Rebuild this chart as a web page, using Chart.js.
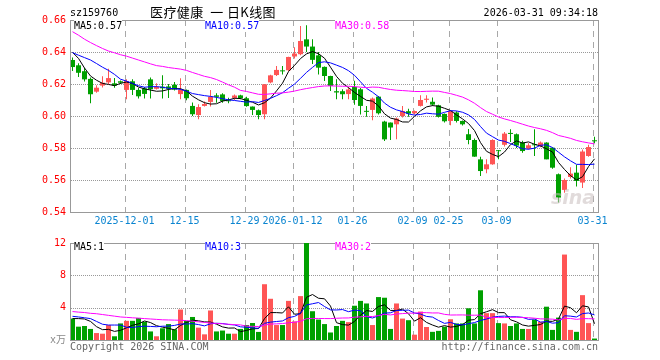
<!DOCTYPE html>
<html><head><meta charset="utf-8">
<script src="https://cdn.jsdelivr.net/npm/chart.js@4.4.1/dist/chart.umd.min.js"></script>
<style>
html,body{margin:0;padding:0;background:#fff;}
#root{position:relative;width:660px;height:360px;overflow:hidden;background:#fff;}
.t{position:absolute;font:10px "DejaVu Sans Mono",monospace;white-space:nowrap;line-height:12px;}
</style></head><body><div id="root">
<div style="position:absolute;left:0;top:0;width:660px;height:232px"><canvas id="c1"></canvas></div>
<div style="position:absolute;left:0;top:232px;width:660px;height:128px"><canvas id="c2"></canvas></div>
<div class="t" style="left:70px;top:7px;color:#000">sz159760</div>
<div class="t" style="left:150px;top:4px;font:13px 'Noto Sans CJK SC',sans-serif;letter-spacing:0.4px;line-height:16px;color:#000">医疗健康&nbsp; 一 日K线图</div>
<div class="t" style="right:62px;top:7px;color:#000">2026-03-31 09:34:18</div>
<div class="t" style="left:74px;top:20px;color:#000;background:#fff">MA5:0.57</div>
<div class="t" style="left:205px;top:20px;color:#0000ff;background:#fff">MA10:0.57</div>
<div class="t" style="left:335px;top:20px;color:#ff00ff;background:#fff">MA30:0.58</div>
<div class="t" style="left:74px;top:241px;color:#000;background:#fff">MA5:1</div>
<div class="t" style="left:205px;top:241px;color:#0000ff;background:#fff">MA10:3</div>
<div class="t" style="left:335px;top:241px;color:#ff00ff;background:#fff">MA30:2</div>
<div class="t" style="left:70px;top:341px;color:#666">Copyright 2026 SINA.COM</div>
<div class="t" style="right:62px;top:341px;color:#666">http://finance.sina.com.cn</div>
<div class="t" style="left:551px;top:186px;font:italic bold 19px 'DejaVu Sans',sans-serif;color:rgba(200,190,190,0.55)">sina</div>
</div>
<script>
// ---- data ----
const tickIdx = [9,19,29,37,47,57,63,71,87];
const tickLabels = ['2025-12-01','12-15','12-29','2026-01-12','01-26','02-09','02-25','03-09','03-31'];

const open = [
0.6350,0.6317,0.6280,0.6232,0.6152,0.6190,0.6210,0.6204,0.6217,0.6163,
0.6217,0.6163,0.6172,0.6229,0.6170,0.6183,0.6185,0.6195,0.6137,0.6163,
0.6063,0.6006,0.6063,0.6088,0.6129,0.6135,0.6096,0.6113,0.6129,0.6111,
0.6059,0.6036,0.6011,0.6210,0.6256,0.6282,0.6286,0.6372,0.6386,0.6479,
0.6434,0.6379,0.6307,0.6250,0.6155,0.6155,0.6137,0.6181,0.6167,0.6028,
0.6038,0.6121,0.5965,0.5959,0.5948,0.6000,0.6030,0.6017,0.6063,0.6101,
0.6089,0.6067,0.6013,0.5969,0.6022,0.5969,0.5886,0.5850,0.5729,0.5667,
0.5698,0.5785,0.5820,0.5892,0.5886,0.5834,0.5796,0.5821,0.5812,0.5834,
0.5802,0.5636,0.5538,0.5619,0.5646,0.5584,0.5750,0.5846];
const close = [
0.6306,0.6270,0.6229,0.6136,0.6177,0.6208,0.6237,0.6190,0.6208,0.6219,
0.6163,0.6123,0.6138,0.6167,0.6182,0.6173,0.6170,0.6165,0.6163,0.6111,
0.6011,0.6056,0.6075,0.6120,0.6120,0.6094,0.6092,0.6128,0.6111,0.6062,
0.6038,0.6006,0.6198,0.6254,0.6288,0.6279,0.6369,0.6390,0.6469,0.6434,
0.6351,0.6302,0.6250,0.6188,0.6147,0.6136,0.6166,0.6100,0.6063,0.6026,
0.6109,0.6017,0.5854,0.5928,0.5984,0.6031,0.6015,0.6031,0.6100,0.6108,
0.6071,0.5995,0.5967,0.6031,0.5969,0.5948,0.5850,0.5746,0.5656,0.5698,
0.5850,0.5780,0.5890,0.5888,0.5815,0.5781,0.5817,0.5817,0.5834,0.5729,
0.5677,0.5490,0.5600,0.5640,0.5594,0.5778,0.5806,0.5842];
const high = [
0.6365,0.6329,0.6300,0.6240,0.6192,0.6248,0.6296,0.6237,0.6222,0.6229,
0.6229,0.6175,0.6182,0.6240,0.6205,0.6254,0.6200,0.6213,0.6236,0.6165,
0.6084,0.6073,0.6090,0.6163,0.6142,0.6142,0.6114,0.6135,0.6133,0.6120,
0.6060,0.6040,0.6200,0.6258,0.6312,0.6313,0.6371,0.6430,0.6562,0.6567,
0.6480,0.6400,0.6310,0.6252,0.6229,0.6167,0.6180,0.6220,0.6175,0.6063,
0.6115,0.6125,0.5970,0.5960,0.5990,0.6063,0.6045,0.6035,0.6129,0.6129,
0.6115,0.6070,0.6015,0.6035,0.6030,0.5972,0.5918,0.5860,0.5746,0.5729,
0.5855,0.5787,0.5900,0.5917,0.5890,0.5845,0.5830,0.5917,0.5840,0.5836,
0.5805,0.5640,0.5610,0.5680,0.5696,0.5790,0.5820,0.5871];
const low = [
0.6281,0.6244,0.6215,0.6080,0.6145,0.6178,0.6199,0.6177,0.6200,0.6104,
0.6131,0.6110,0.6110,0.6110,0.6165,0.6110,0.6112,0.6160,0.6104,0.6098,
0.6000,0.5979,0.6060,0.6060,0.6083,0.6083,0.6080,0.6100,0.6105,0.6058,
0.6006,0.5979,0.5979,0.6205,0.6250,0.6260,0.6280,0.6360,0.6380,0.6400,
0.6325,0.6260,0.6219,0.6156,0.6104,0.6104,0.6104,0.6070,0.6010,0.5996,
0.5973,0.6010,0.5844,0.5850,0.5855,0.5990,0.5996,0.6010,0.6060,0.6084,
0.6063,0.5990,0.5960,0.5942,0.5960,0.5940,0.5823,0.5745,0.5625,0.5642,
0.5695,0.5730,0.5810,0.5838,0.5800,0.5770,0.5790,0.5750,0.5805,0.5729,
0.5670,0.5459,0.5520,0.5610,0.5560,0.5550,0.5745,0.5829];
const volume = [
2.65,1.65,1.73,1.37,0.86,0.78,1.85,0.46,2.05,2.37,
2.37,2.73,2.25,1.06,0.46,1.45,1.97,1.33,3.77,2.37,
2.85,1.53,0.70,3.65,1.06,1.17,0.78,0.78,1.37,1.85,
2.10,1.00,6.90,5.10,1.85,1.85,4.84,2.30,5.43,12.0,
3.56,2.53,1.97,0.93,1.73,2.37,2.21,4.24,4.84,4.52,
1.85,5.31,5.23,1.37,4.52,2.65,2.45,0.66,3.52,1.61,
1.01,1.13,1.65,2.57,2.05,2.05,3.92,2.05,6.15,3.32,
3.32,2.09,2.05,1.73,2.05,1.37,1.37,2.53,2.25,4.12,
1.25,2.77,10.57,1.25,1.01,5.55,2.09,0.18];
// moving-average values at the start of the window (history not shown)
const priceMa5Head = [0.6398,0.6360,0.6300,0.6250];
const priceMa10Head = [0.6396,0.6380,0.6365,0.6350,0.6328,0.6305,0.6285,0.6260,0.6230];
const priceMa30Head = [0.6527,0.6505,0.6480,0.6459,0.6440,0.6422,0.6406,0.6395,0.6383,0.6374,
  0.6362,0.6350,0.6338,0.6326,0.6315,0.6310,0.6303,0.6298,0.6293,0.6285,
  0.6272,0.6260,0.6248,0.6240,0.6228,0.6212,0.6195,0.6180,0.6160];
const volMa5Head = [2.65,2.65,2.60,2.30];
const volMa10Head = [2.93,2.85,2.75,2.65,2.30,1.95,1.85,1.85,1.85];
const volMa30Head = [3.52,3.45,3.40,3.30,3.25,3.15,3.05,2.95,2.85,2.80,
  2.75,2.70,2.65,2.60,2.55,2.50,2.48,2.46,2.44,2.40,
  2.32,2.25,2.18,2.10,2.05,2.00,1.95,1.90,1.87];

// ---- helpers ----
const RED = '#ff5555', GREEN = '#00a000';
const FONT = '"DejaVu Sans Mono", monospace';
const X_MIN = -0.25, X_MAX = 87.5833;
function ma(src, n, head){
  return src.map((_, i) => i < n-1 ? head[i] : src.slice(i-n+1, i+1).reduce((a,b)=>a+b,0)/n);
}
const colorOf = i => (close[i] > open[i] ? RED : GREEN);
const pts = arr => arr.map((v,i) => ({x:i, y:v}));

// dotted horizontal grid, dashed vertical grid and frame, placed with the chart's own scales
const gridPlugin = {
  id:'gridFrame',
  beforeDatasetsDraw(chart){
    const ctx = chart.ctx, a = chart.chartArea;
    const x = chart.scales.x, y = chart.scales.y;
    const L = Math.round(a.left), R = Math.round(a.right), T = Math.round(a.top), B = Math.round(a.bottom);
    ctx.save();
    ctx.fillStyle = '#999999';
    y.ticks.forEach(t => {
      if (Math.abs(t.value - y.min) < 1e-9 || Math.abs(t.value - y.max) < 1e-9) return;
      const py = Math.round(y.getPixelForValue(t.value));
      for (let px = L; px < R; px += 2) ctx.fillRect(px, py, 1, 1);
    });
    ctx.fillStyle = '#a8a8a8';
    tickIdx.forEach(i => {
      const px = Math.round(x.getPixelForValue(i - 0.33));
      for (let py = T; py < B; py += 11) ctx.fillRect(px, py, 1, Math.min(6, B - py));
    });
    ctx.fillStyle = '#999999';
    ctx.fillRect(L-1, T, R-L+2, 1);
    ctx.fillRect(L-1, B, R-L+2, 1);
    ctx.fillRect(L-1, T, 1, B-T+1);
    ctx.fillRect(R, T, 1, B-T+1);
    ctx.restore();
  }
};

function xScale(showLabels){
  return {
    type:'linear', min:X_MIN, max:X_MAX, offset:false, bounds:'ticks',
    afterFit: s => { s.height = 20; },
    afterBuildTicks: s => { s.ticks = tickIdx.map(i => ({value: i - 0.33})); },
    ticks:{ display:showLabels, autoSkip:false, maxRotation:0, padding:3, color:'#0a84d0',
      font:{family:FONT, size:10},
      callback:(v, idx) => tickLabels[idx] },
    grid:{ display:false, drawTicks:false },
    border:{ display:false }
  };
}

const lineDs = (data, color) => ({ type:'line', data, borderColor:color, borderWidth:1,
  pointRadius:0, tension:0, fill:false, order:0 });

Chart.defaults.animation = false;

new Chart(document.getElementById('c1'), {
  type:'bar',
  data:{ datasets:[
    { data: close.map((c,i)=>({x:i, y:[low[i], high[i]]})), backgroundColor: close.map((c,i)=>colorOf(i)),
      maxBarThickness:1, barThickness:1, barPercentage:1, categoryPercentage:1, grouped:false, inflateAmount:0, borderWidth:0, order:2 },
    { data: close.map((c,i)=>({x:i, y:[open[i], c]})), backgroundColor: close.map((c,i)=>colorOf(i)),
      maxBarThickness:5, barThickness:5, barPercentage:1, categoryPercentage:1, grouped:false, inflateAmount:0, borderWidth:0, minBarLength:1, order:1 },
    lineDs(pts(ma(close,30,priceMa30Head)), '#ff00ff'),
    lineDs(pts(ma(close,10,priceMa10Head)), '#0000ff'),
    lineDs(pts(ma(close,5,priceMa5Head)), '#000000')
  ]},
  options:{
    responsive:true, maintainAspectRatio:false, devicePixelRatio:1, animation:false,
    layout:{ padding:{ top:20, right:62, left:0, bottom:0 } },
    plugins:{ legend:{display:false}, tooltip:{enabled:false} },
    scales:{
      x: xScale(true),
      y: { type:'linear', min:0.54, max:0.66, afterFit: s => { s.width = 71; },
        ticks:{ stepSize:0.02, color:'#ff0000', padding:5, font:{family:FONT, size:10},
          callback: v => Number(v).toFixed(2) },
        grid:{ display:false, drawTicks:false },
        border:{ display:false } }
    }
  },
  plugins:[gridPlugin]
});

new Chart(document.getElementById('c2'), {
  type:'bar',
  data:{ datasets:[
    { data: volume.map((v,i)=>({x:i, y:v})), backgroundColor: volume.map((v,i)=>colorOf(i)),
      maxBarThickness:5, barThickness:5, barPercentage:1, categoryPercentage:1, grouped:false, inflateAmount:0, borderWidth:0, order:1 },
    lineDs(pts(ma(volume,30,volMa30Head)), '#ff00ff'),
    lineDs(pts(ma(volume,10,volMa10Head)), '#0000ff'),
    lineDs(pts(ma(volume,5,volMa5Head)), '#000000')
  ]},
  options:{
    responsive:true, maintainAspectRatio:false, devicePixelRatio:1, animation:false,
    layout:{ padding:{ top:8, right:62, left:0, bottom:0 } },
    plugins:{ legend:{display:false}, tooltip:{enabled:false} },
    scales:{
      x: xScale(false),
      y: { type:'linear', min:0, max:12, afterFit: s => { s.width = 71; },
        ticks:{ stepSize:4, padding:5, font:{family:FONT+', "Noto Sans CJK SC"', size:10},
          color: c => (c.tick && c.tick.value === 0 ? '#888' : '#ff0000'),
          callback: v => (v === 0 ? 'x万' : String(v)) },
        grid:{ display:false, drawTicks:false },
        border:{ display:false } }
    }
  },
  plugins:[gridPlugin]
});
</script>
</body></html>
